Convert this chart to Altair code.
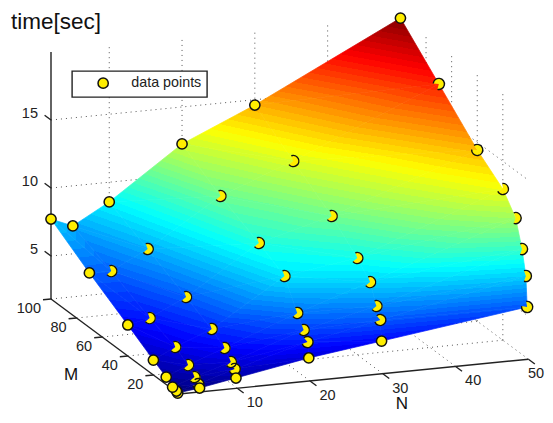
import math
import altair as alt
import pandas as pd

# Values: one time per (M, N) mesh node, and the axis ticks.
N_VALUES = [2, 5, 10, 20, 30, 50]
M_VALUES = [100, 70, 40, 20, 10, 5, 2, 1]
TIME = [
    [7.72, 7.05, 8.55, 12.28, 14.61, 19.94],
    [5.85, 5.83, 7.19, 10.55, 12.59, 17.19],
    [4.12, 4.47, 5.75, 9.19, 10.64, 14.43],
    [2.94, 3.74, 4.80, 8.16, 8.95, 12.96],
    [2.39, 3.11, 4.10, 6.14, 7.88, 11.52],
    [2.00, 2.58, 3.42, 5.24, 6.47, 9.59],
    [1.92, 2.27, 3.11, 4.56, 5.65, 7.82],
    [1.84, 2.05, 2.52, 3.46, 4.17, 5.61],
]
N_TICKS = [10, 20, 30, 40, 50]
M_TICKS = [20, 40, 60, 80, 100]
T_TICKS = [5, 10, 15]
N_MIN, N_MAX, M_MIN, M_MAX, T_MIN, T_MAX = 2, 50, 0, 100, 1.84, 20.0

FONT = "Liberation Sans"
INK = "#222222"
YELLOW = "#ffee00"
W, H = 537, 407


def project(n, m, t):
    """The 3-D view: orthographic projection of (N, M, time) on to the picture."""
    return (179 + 7.28 * (n - 2) - 1.28 * m,
            394 - 0.725 * (n - 2) - 0.95 * m - 13.6 * (t - T_MIN))


X = alt.X("x:Q", scale=alt.Scale(domain=[8, 8 + W]), axis=None)
Y = alt.Y("y:Q", scale=alt.Scale(domain=[8 + H, 8]), axis=None)


def segments(pairs):
    rows = []
    for i, (a, b) in enumerate(pairs):
        for j, p in enumerate((a, b)):
            x, y = project(*p)
            rows.append({"x": x, "y": y, "seg": i, "o": j})
    return pd.DataFrame(rows)


def line_layer(pairs, **style):
    return alt.Chart(segments(pairs)).mark_line(**style).encode(
        x=X, y=Y, detail="seg:N", order="o:Q")


# Dotted box grid on the floor and on the two back walls.
grid = []
for n in N_TICKS:
    grid.append(((n, M_MIN, T_MIN), (n, M_MAX, T_MIN)))
    grid.append(((n, M_MAX, T_MIN), (n, M_MAX, T_MAX)))
for m in M_TICKS:
    grid.append(((N_MIN, m, T_MIN), (N_MAX, m, T_MIN)))
    grid.append(((N_MAX, m, T_MIN), (N_MAX, m, T_MAX)))
for t in T_TICKS:
    grid.append(((N_MIN, M_MAX, t), (N_MAX, M_MAX, t)))
    grid.append(((N_MAX, M_MAX, t), (N_MAX, M_MIN, t)))
grid_layer = line_layer(grid, color="#555555", strokeWidth=1, strokeDash=[1, 4])

axes = [((N_MIN, M_MIN, T_MIN), (N_MAX, M_MIN, T_MIN)),
        ((N_MIN, M_MIN, T_MIN), (N_MIN, M_MAX, T_MIN)),
        ((N_MIN, M_MAX, T_MIN), (N_MIN, M_MAX, T_MAX))]
axes += [((n, M_MIN, T_MIN), (n, -5, T_MIN)) for n in N_TICKS]
axes += [((N_MIN, m, T_MIN), (N_MIN - 1.1, m, T_MIN)) for m in M_TICKS]
axes += [((N_MIN, M_MAX, t), (N_MIN, M_MAX + 5, t)) for t in T_TICKS]
axis_layer = line_layer(axes, color=INK, strokeWidth=1.4)


def labels(ticks, point, shift=0, **style):
    rows = []
    for v in ticks:
        x, y = project(*point(v))
        # keep the label inside the drawing area at the right-hand end
        rows.append({"x": min(x + shift, 8 + W - 9), "y": y, "label": str(v)})
    return alt.Chart(pd.DataFrame(rows)).mark_text(
        font=FONT, fontSize=14.5, color=INK, **style).encode(x=X, y=Y, text="label:N")


n_labels = labels(N_TICKS, lambda v: (v, M_MIN, T_MIN), shift=17.5, align="center", dy=15)
m_labels = labels(M_TICKS, lambda v: (N_MIN, v, T_MIN), align="right", dx=-10, dy=10)
t_labels = labels(T_TICKS, lambda v: (N_MIN, M_MAX, v), align="right", dx=-13, dy=-6.5)


# Surface: the browser shades each mesh triangle with a linear gradient running
# through the 64-step jet colormap, so no extra data points are made.
def jet(f):
    def ch(c):
        return max(0.0, min(1.0, 1.5 - abs(4 * f - c)))
    r, g, b = ch(3), ch(2), ch(1)
    return "#%02x%02x%02x" % (round(r * 255), round(g * 255), round(b * 255))


LEVELS = 64


def level(t):
    return min(LEVELS - 1, max(0, int((t - T_MIN) / (T_MAX - T_MIN) * LEVELS)))


def level_colour(i):
    return jet((i + 0.5) / LEVELS)


def triangle_fill(pts):
    xs = [p[0] for p in pts]
    ys = [p[1] for p in pts]
    x0, w = min(xs), max(xs) - min(xs)
    y0, h = min(ys), max(ys) - min(ys)
    uv = [((p[0] - x0) / w, (p[1] - y0) / h, p[2]) for p in pts]
    (u1, v1, t1), (u2, v2, t2), (u3, v3, t3) = uv
    det = (u2 - u1) * (v3 - v1) - (u3 - u1) * (v2 - v1)
    a = ((t2 - t1) * (v3 - v1) - (t3 - t1) * (v2 - v1)) / det
    b = ((u2 - u1) * (t3 - t1) - (u3 - u1) * (t2 - t1)) / det
    lo = min(uv, key=lambda p: p[2])
    hi_t = max(p[2] for p in uv)
    span = hi_t - lo[2]
    if span < 1e-6 or a * a + b * b < 1e-9:
        return level_colour(level(lo[2]))
    k = span / (a * a + b * b)
    stops = []
    first, last = level(lo[2]), level(hi_t)
    for i in range(first, last + 1):
        start = T_MIN + i * (T_MAX - T_MIN) / LEVELS
        end = T_MIN + (i + 1) * (T_MAX - T_MIN) / LEVELS
        c = level_colour(i)
        stops.append({"offset": max(0.0, (start - lo[2]) / span), "color": c})
        stops.append({"offset": min(1.0, (end - lo[2]) / span), "color": c})
    return {"gradient": "linear", "x1": lo[0], "y1": lo[1],
            "x2": lo[0] + a * k, "y2": lo[1] + b * k, "stops": stops}


def node(r, c):
    x, y = project(N_VALUES[c], M_VALUES[r], TIME[r][c])
    return (x, y, TIME[r][c])


surface = []
for r in range(len(M_VALUES) - 1):
    for c in range(len(N_VALUES) - 1):
        a, b, d, e = node(r, c), node(r, c + 1), node(r + 1, c + 1), node(r + 1, c)
        for tri in ((a, b, d), (a, d, e)):
            paint = triangle_fill(tri)
            rows = [{"x": p[0], "y": p[1], "o": i} for i, p in enumerate(tri + (tri[0],))]
            surface.append(
                alt.Chart(pd.DataFrame(rows))
                .mark_line(fill=paint, stroke=paint, strokeWidth=0.7)
                .encode(x=X, y=Y, order="o:Q"))


# Markers: those in front of the mesh edges are whole, the others are partly
# hidden by the surface and drawn as a disc with a wedge missing.
BITE_DEFAULT = (285, 55)
BITE_M2 = (285, 35)
BITE_EDGE = {70: (235, 40), 40: (300, 25), 20: (300, 55), 10: (270, 70),
             5: (270, 70), 2: (270, 70), 1: (315, 35)}

full, bitten = [], []
for r, m in enumerate(M_VALUES):
    for c, n in enumerate(N_VALUES):
        x, y = project(n, m, TIME[r][c])
        row = {"x": x, "y": y, "series": "data points", "m": m}
        if n == N_MAX and m in BITE_EDGE:
            centre, half = BITE_EDGE[m]
        elif m == 100 or (m == 1 and n != N_MAX) or n == N_MIN:
            full.append(row)
            continue
        else:
            centre, half = BITE_M2 if m == 2 else BITE_DEFAULT
        row["a"] = math.radians(centre + half)
        row["b"] = math.radians(centre - half + 360)
        bitten.append(row)

bitten_df = pd.DataFrame(bitten)
full_df = pd.DataFrame(full).sort_values("m", kind="stable")

wedges = alt.Chart(bitten_df).mark_arc(radius=5.8, color=YELLOW).encode(
    x=X, y=Y,
    theta=alt.Theta("a:Q", scale=None),
    theta2=alt.Theta2("b:Q"))
rims = alt.Chart(bitten_df).mark_arc(radius=6.3, radius2=4.9, color="#111111").encode(
    x=X, y=Y,
    theta=alt.Theta("a:Q", scale=None),
    theta2=alt.Theta2("b:Q"))

dots = alt.Chart(full_df).mark_point(
    filled=True, shape="circle", size=105, stroke="#111111", strokeWidth=1.5, opacity=1
).encode(
    x=X, y=Y,
    order=alt.Order("m:Q"),
    fill=alt.Fill(
        "series:N",
        scale=alt.Scale(domain=["data points"], range=[YELLOW]),
        legend=alt.Legend(
            orient="none", legendX=64, legendY=63, title=None,
            fillColor="white", strokeColor=INK,
            padding=5, symbolSize=105, symbolStrokeColor="#111111",
            symbolStrokeWidth=1.5, symbolType="circle", symbolOpacity=1,
            symbolOffset=19, labelOffset=21,
            labelFont=FONT, labelFontSize=14.3, labelColor=INK),
    ),
)


def caption(text, x, y, size):
    return alt.Chart(pd.DataFrame({"label": [text]})).mark_text(
        font=FONT, fontSize=size, color="#111111", align="center", baseline="middle"
    ).encode(x=alt.value(x - 8), y=alt.value(y - 8), text="label:N")


chart = alt.layer(
    grid_layer, *surface, axis_layer, wedges, rims, dots,
    n_labels, m_labels, t_labels,
    caption("time[sec]", 56, 22, 22.5),
    caption("N", 402, 404, 17),
    caption("M", 71, 375, 17),
).properties(
    width=W, height=H, padding=0, autosize=alt.AutoSizeParams(type="none"),
).configure_view(stroke=None).configure_legend(strokeWidth=1.4)

chart.save("out.html", embed_options={"renderer": "svg", "actions": False})
